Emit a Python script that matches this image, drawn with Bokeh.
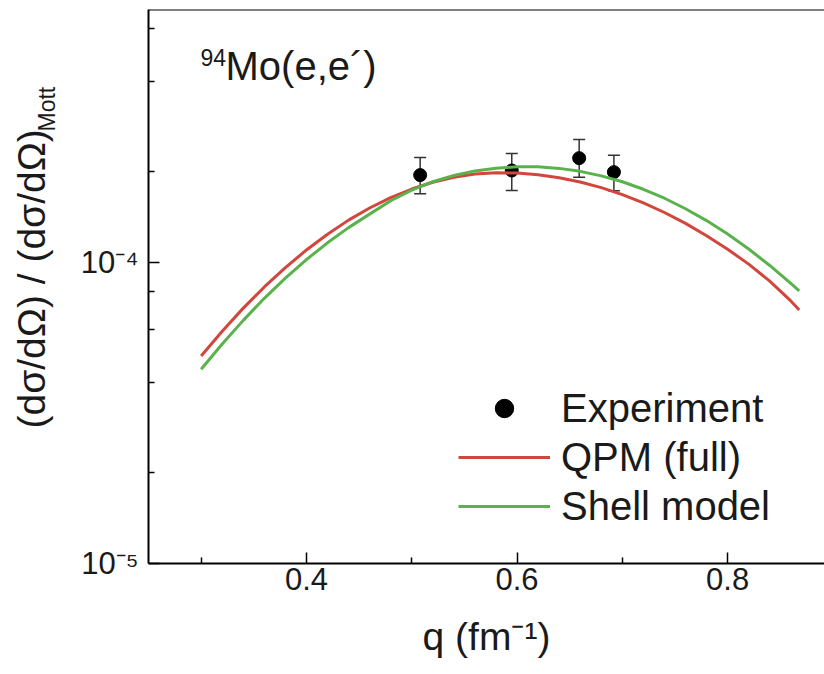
import math
from bokeh.plotting import figure
from bokeh.layouts import row
from bokeh.models import (Range1d, FixedTicker, Whisker, TeeHead, ColumnDataSource,
                          Legend, LegendItem, Label, Span)
from bokeh.embed import file_html
from bokeh.resources import INLINE

# ---------------- data ----------------
q_curve = [0.30, 0.32, 0.34, 0.36, 0.38, 0.40, 0.42, 0.44, 0.46, 0.48,
           0.50, 0.52, 0.54, 0.56, 0.58, 0.60, 0.62, 0.64, 0.66, 0.68,
           0.70, 0.72, 0.74, 0.76, 0.78, 0.80, 0.82, 0.84, 0.86, 0.868]
qpm_full = [4.89e-5, 5.91e-5, 7.05e-5, 8.29e-5, 9.61e-5, 1.100e-4, 1.241e-4, 1.382e-4,
            1.516e-4, 1.642e-4, 1.753e-4, 1.847e-4, 1.918e-4, 1.965e-4, 1.986e-4,
            1.981e-4, 1.956e-4, 1.912e-4, 1.850e-4, 1.772e-4, 1.680e-4, 1.577e-4,
            1.465e-4, 1.348e-4, 1.227e-4, 1.106e-4, 9.87e-5, 8.67e-5, 7.45e-5, 6.95e-5]
shell_model = [4.42e-5, 5.36e-5, 6.42e-5, 7.60e-5, 8.87e-5, 1.022e-4, 1.162e-4, 1.305e-4,
               1.447e-4, 1.603e-4, 1.738e-4, 1.854e-4, 1.945e-4, 2.014e-4, 2.056e-4,
               2.077e-4, 2.077e-4, 2.053e-4, 2.007e-4, 1.939e-4, 1.853e-4, 1.750e-4,
               1.634e-4, 1.508e-4, 1.377e-4, 1.242e-4, 1.108e-4, 9.77e-5, 8.52e-5, 8.04e-5]

q_exp = [0.508, 0.595, 0.659, 0.692]
exp_val = [1.95e-4, 2.02e-4, 2.22e-4, 1.995e-4]
exp_hi = [2.23e-4, 2.30e-4, 2.56e-4, 2.27e-4]
exp_lo = [1.69e-4, 1.735e-4, 1.92e-4, 1.73e-4]

x_major = [0.4, 0.6, 0.8]
x_minor = [0.3, 0.5, 0.7]
y_major = [1e-5, 1e-4]
y_minor = [2e-5, 4e-5, 6e-5, 8e-5, 2e-4, 4e-4, 6e-4]
y_tick_labels = {1e-5: "10\u207b\u2075", 1e-4: "10\u207b\u2074"}

legend_labels = ["Experiment", "QPM (full)", "Shell model"]
x_title = "q (fm\u207b\u00b9)"
y_title_main = "(d\u03c3/d\u03a9) / (d\u03c3/d\u03a9)"
y_title_sub = "Mott"
nucleus_mass = "94"
reaction = "Mo(e,e\u00b4)"

FONT = "Liberation Sans"
TXT = "#1a1a1a"
RED = "#d2463c"
GREEN = "#5ab24c"

H = 674
TITLE_W = 70

# ---------------- narrow panel holding the rotated y title ----------------
tf = figure(width=TITLE_W, height=H, x_range=Range1d(0, 1), y_range=Range1d(0, 1),
            output_backend="svg", toolbar_location=None,
            x_axis_location=None, y_axis_location=None,
            min_border_left=0, min_border_right=0, min_border_top=0, min_border_bottom=0)
tf.outline_line_color = None
tf.grid.visible = False
tf.add_layout(Label(x=52, y=135, x_units="screen", y_units="screen", text=y_title_main,
                    angle=math.pi / 2, text_font=FONT, text_font_size="39px",
                    text_color=TXT))
tf.add_layout(Label(x=59, y=432, x_units="screen", y_units="screen", text=y_title_sub,
                    angle=math.pi / 2, text_font=FONT, text_font_size="23px",
                    text_color=TXT))

# ---------------- main plot ----------------
p = figure(width=824 - TITLE_W, height=H,
           x_range=Range1d(0.25, 0.892), y_range=Range1d(1e-5, 6.92e-4),
           y_axis_type="log", output_backend="svg", toolbar_location=None,
           min_border_left=148 - TITLE_W, min_border_right=0, min_border_top=9,
           min_border_bottom=111)
p.outline_line_color = None
p.grid.visible = False

xa = p.xaxis[0]
xa.ticker = FixedTicker(ticks=x_major, minor_ticks=x_minor)
ya = p.yaxis[0]
ya.ticker = FixedTicker(ticks=y_major, minor_ticks=y_minor)
ya.major_label_overrides = y_tick_labels
for ax in (xa, ya):
    ax.axis_line_width = 2
    ax.axis_line_color = "black"
    ax.major_tick_in = 11
    ax.major_tick_out = 0
    ax.minor_tick_in = 6
    ax.minor_tick_out = 0
    ax.major_tick_line_width = 1.5
    ax.minor_tick_line_width = 1.5
    ax.major_tick_line_color = "black"
    ax.minor_tick_line_color = "black"
    ax.major_label_text_font = FONT
    ax.major_label_text_font_size = "31px"
    ax.major_label_text_color = TXT
xa.major_label_standoff = 4
ya.major_label_standoff = 10
xa.axis_label = x_title
xa.axis_label_text_font = FONT
xa.axis_label_text_font_size = "39px"
xa.axis_label_text_font_style = "normal"
xa.axis_label_text_color = TXT
xa.axis_label_standoff = 22

# top frame line (no right frame line in the reference)
p.add_layout(Span(location=6.92e-4, dimension="width", line_color="black", line_width=2))

# experiment with error bars
src = ColumnDataSource(dict(q=q_exp, v=exp_val, hi=exp_hi, lo=exp_lo))
p.add_layout(Whisker(source=src, base="q", upper="hi", lower="lo", line_color="#333333",
                     line_width=1.5,
                     upper_head=TeeHead(size=12, line_color="#333333", line_width=1.5),
                     lower_head=TeeHead(size=12, line_color="#333333", line_width=1.5)))
p.scatter("q", "v", source=src, size=13, color="black")

# theory curves
r_red = p.line(q_curve, qpm_full, line_color=RED, line_width=3, line_join="round")
r_green = p.line(q_curve, shell_model, line_color=GREEN, line_width=3, line_join="round")

# legend (its dot is bigger than the data points, as in the reference)
dummy = p.scatter([float("nan")], [float("nan")], size=19, color="black")
legend = Legend(items=[LegendItem(label=legend_labels[0], renderers=[dummy]),
                       LegendItem(label=legend_labels[1], renderers=[r_red]),
                       LegendItem(label=legend_labels[2], renderers=[r_green])],
                location=(310, 34), border_line_color=None, background_fill_alpha=0,
                padding=0, margin=0, spacing=3, glyph_width=92, glyph_height=46,
                label_height=46, label_standoff=11, label_text_font=FONT,
                label_text_font_size="40px", label_text_color=TXT)
p.add_layout(legend)

# 94Mo(e,e') annotation
p.add_layout(Label(x=52, y=498, x_units="screen", y_units="screen", text=nucleus_mass,
                   text_font=FONT, text_font_size="23px", text_color=TXT))
p.add_layout(Label(x=77, y=476, x_units="screen", y_units="screen", text=reaction,
                   text_font=FONT, text_font_size="40px", text_color=TXT))

layout = row(tf, p)
open("out.html", "w").write(file_html(layout, INLINE))
